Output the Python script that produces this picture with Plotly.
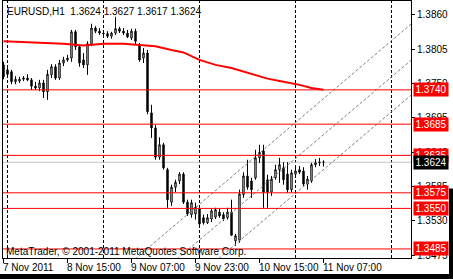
import plotly.graph_objects as go

# ---- data (EURUSD H1, bar index 0 = 7 Nov 2011 23:00) ----
open_p = [1.3780, 1.3772, 1.3769, 1.3753, 1.3754, 1.3757, 1.3759, 1.3756, 1.3746, 1.3743,
          1.3751, 1.3737, 1.3764, 1.3777, 1.3759, 1.3783, 1.3788, 1.3791, 1.3833, 1.3809,
          1.3788, 1.3780, 1.3814, 1.3839, 1.3834, 1.3831, 1.3830, 1.3826, 1.3831, 1.3838,
          1.3834, 1.3831, 1.3823, 1.3834, 1.3812, 1.3791, 1.3799, 1.3703, 1.3679, 1.3632,
          1.3652, 1.3612, 1.3560, 1.3584, 1.3594, 1.3605, 1.3560, 1.3540, 1.3541, 1.3549,
          1.3535, 1.3527, 1.3533, 1.3536, 1.3544, 1.3540, 1.3535, 1.3544, 1.3498, 1.3499,
          1.3572, 1.3602, 1.3594, 1.3599, 1.3631, 1.3642, 1.3596, 1.3576, 1.3599, 1.3612,
          1.3615, 1.3605, 1.3580, 1.3605, 1.3612, 1.3610, 1.3589, 1.3594, 1.3620, 1.3623,
          1.3624]
high_p = [1.3785, 1.3778, 1.3772, 1.3762, 1.3761, 1.3762, 1.3765, 1.3759, 1.3753, 1.3756,
          1.3756, 1.3772, 1.3781, 1.3781, 1.3788, 1.3793, 1.3796, 1.3836, 1.3836, 1.3812,
          1.3799, 1.3818, 1.3846, 1.3842, 1.3839, 1.3836, 1.3834, 1.3833, 1.3857, 1.3841,
          1.3839, 1.3836, 1.3838, 1.3838, 1.3815, 1.3807, 1.3804, 1.3716, 1.3684, 1.3664,
          1.3655, 1.3615, 1.3588, 1.3596, 1.3608, 1.3608, 1.3564, 1.3564, 1.3559, 1.3554,
          1.3540, 1.3541, 1.3549, 1.3551, 1.3549, 1.3544, 1.3551, 1.3564, 1.3509, 1.3580,
          1.3608, 1.3628, 1.3599, 1.3644, 1.3652, 1.3652, 1.3604, 1.3602, 1.3620, 1.3631,
          1.3624, 1.3624, 1.3612, 1.3615, 1.3618, 1.3616, 1.3602, 1.3623, 1.3629, 1.3631,
          1.3627]
low_p = [1.3757, 1.3759, 1.3749, 1.3749, 1.3751, 1.3754, 1.3754, 1.3740, 1.3740, 1.3738,
         1.3727, 1.3724, 1.3759, 1.3756, 1.3756, 1.3778, 1.3785, 1.3785, 1.3804, 1.3777,
         1.3775, 1.3764, 1.3810, 1.3831, 1.3828, 1.3826, 1.3823, 1.3822, 1.3828, 1.3831,
         1.3828, 1.3823, 1.3820, 1.3812, 1.3785, 1.3783, 1.3701, 1.3663, 1.3628, 1.3628,
         1.3612, 1.3551, 1.3554, 1.3576, 1.3589, 1.3557, 1.3538, 1.3535, 1.3532, 1.3522,
         1.3524, 1.3525, 1.3528, 1.3533, 1.3535, 1.3530, 1.3532, 1.3506, 1.3490, 1.3495,
         1.3567, 1.3580, 1.3567, 1.3596, 1.3623, 1.3551, 1.3551, 1.3570, 1.3596, 1.3591,
         1.3588, 1.3575, 1.3576, 1.3599, 1.3605, 1.3586, 1.3580, 1.3591, 1.3616, 1.3618,
         1.3617]
close_p = [1.3761, 1.3765, 1.3753, 1.3757, 1.3757, 1.3759, 1.3756, 1.3746, 1.3743, 1.3751,
           1.3737, 1.3765, 1.3777, 1.3759, 1.3783, 1.3788, 1.3791, 1.3833, 1.3809, 1.3783,
           1.3780, 1.3814, 1.3839, 1.3834, 1.3831, 1.3830, 1.3826, 1.3831, 1.3838, 1.3834,
           1.3831, 1.3825, 1.3834, 1.3818, 1.3788, 1.3799, 1.3705, 1.3679, 1.3632, 1.3652,
           1.3615, 1.3564, 1.3584, 1.3592, 1.3605, 1.3560, 1.3541, 1.3559, 1.3552, 1.3525,
           1.3527, 1.3535, 1.3546, 1.3548, 1.3538, 1.3533, 1.3544, 1.3507, 1.3506, 1.3573,
           1.3602, 1.3584, 1.3580, 1.3631, 1.3640, 1.3576, 1.3576, 1.3597, 1.3612, 1.3620,
           1.3596, 1.3580, 1.3607, 1.3610, 1.3608, 1.3589, 1.3597, 1.3620, 1.3623, 1.3624,
           1.3624]
bars = list(range(len(open_p)))

# moving average (read at sample bars)
ma_bars = [0, 5, 10, 15, 20, 25, 30, 35, 38, 42, 45, 49, 53, 57, 62, 66, 70, 74, 77, 80]
ma_values = [1.3818, 1.3817, 1.3815, 1.3814, 1.3811, 1.3814, 1.3814, 1.3812, 1.3810, 1.3804,
             1.3800, 1.3788, 1.3780, 1.3775, 1.3765, 1.3758, 1.3753, 1.3748, 1.3743, 1.3740]

# channel lines (two anchor bars each)
channel_bars = [30, 102]
channel_upper = [1.3453, 1.3846]
channel_middle = [1.3396, 1.3788]
channel_lower = [1.3340, 1.3732]

# horizontal levels
red_levels = [1.3740, 1.3685, 1.3635, 1.3575, 1.3550, 1.3485]
bid_level = 1.3624

# period separators (midnight bars)
separator_bars = [1, 25, 49, 73, 97]

# axis ticks
x_tick_bars = [0, 16, 32, 48, 64, 80]
x_tick_labels = ["7 Nov 2011", "8 Nov 15:00", "9 Nov 07:00", "9 Nov 23:00",
                 "10 Nov 15:00", "11 Nov 07:00"]
y_ticks = [1.3860, 1.3805, 1.3750, 1.3695, 1.3640, 1.3585, 1.3530, 1.3475]

title_text = "EURUSD,H1\u00a0\u00a01.3624 1.3627 1.3617 1.3624"
copyright_text = "MetaTrader, \u00a9 2001-2011 MetaQuotes Software Corp."

FONT = "Liberation Sans, Arial, sans-serif"

fig = go.Figure()

# channel lines
for vals in (channel_upper, channel_middle, channel_lower):
    fig.add_trace(go.Scatter(x=channel_bars, y=vals, mode="lines",
                             line=dict(color="#808080", width=1, dash="3px,2px"),
                             hoverinfo="skip"))

# candles
fig.add_trace(go.Candlestick(
    x=bars, open=open_p, high=high_p, low=low_p, close=close_p,
    increasing=dict(line=dict(color="black", width=1), fillcolor="white"),
    decreasing=dict(line=dict(color="black", width=1), fillcolor="black"),
    whiskerwidth=0))

# moving average
fig.add_trace(go.Scatter(x=ma_bars, y=ma_values, mode="lines",
                         line=dict(color="#FF0000", width=2), hoverinfo="skip"))

shapes = []
for b in separator_bars:
    shapes.append(dict(type="line", xref="x", yref="paper", x0=b, x1=b, y0=0, y1=1,
                       line=dict(color="black", width=1, dash="3px,2px"), layer="below"))
for lv in red_levels:
    shapes.append(dict(type="line", xref="paper", yref="y", x0=0, x1=1, y0=lv, y1=lv,
                       line=dict(color="#FF0000", width=1), layer="above"))
shapes.append(dict(type="line", xref="paper", yref="y", x0=0, x1=1, y0=bid_level, y1=bid_level,
                   line=dict(color="#C0C0C0", width=1), layer="below"))
# window frame strips (right, bottom)
shapes.append(dict(type="rect", xref="paper", yref="paper", x0=1.0931, x1=1.12,
                   y0=-0.1, y1=0.27, fillcolor="black", line=dict(width=0), layer="above"))
shapes.append(dict(type="rect", xref="paper", yref="paper", x0=-0.02, x1=1.12,
                   y0=-0.1, y1=-0.0623, fillcolor="black", line=dict(width=0), layer="above"))

annotations = []
for b, t in zip(x_tick_bars, x_tick_labels):
    annotations.append(dict(x=b, y=0, xref="x", yref="paper", text=t, showarrow=False,
                            xanchor="left", yanchor="top", xshift=-3, yshift=-2,
                            font=dict(family=FONT, size=10, color="black")))
for lv in red_levels:
    annotations.append(dict(x=1, y=lv, xref="paper", yref="y", text=f"{lv:.4f}",
                            showarrow=False, xanchor="left", yanchor="middle", xshift=2,
                            bgcolor="#FF0000", width=32, height=11, borderpad=1,
                            font=dict(family=FONT, size=10, color="white")))
annotations.append(dict(x=1, y=bid_level, xref="paper", yref="y", text=f"{bid_level:.4f}",
                        showarrow=False, xanchor="left", yanchor="middle", xshift=2,
                        bgcolor="black", width=32, height=11, borderpad=1,
                        font=dict(family=FONT, size=10, color="white")))
annotations.append(dict(x=0, y=1, xref="paper", yref="paper", text=title_text,
                        showarrow=False, xanchor="left", yanchor="top", xshift=2, yshift=-3,
                        font=dict(family=FONT, size=10, color="black")))
annotations.append(dict(x=0, y=0, xref="paper", yref="paper", text=copyright_text,
                        showarrow=False, xanchor="left", yanchor="bottom", xshift=1, yshift=-1,
                        font=dict(family=FONT, size=10, color="black")))

fig.update_layout(
    width=453, height=279,
    margin=dict(l=3, r=42, t=1, b=21),
    paper_bgcolor="white", plot_bgcolor="white",
    showlegend=False,
    boxgap=0.5,
    font=dict(family=FONT, size=10, color="black"),
    shapes=shapes, annotations=annotations,
    xaxis=dict(range=[-0.125, 101.875], showgrid=False, zeroline=False,
               showline=True, linecolor="black", linewidth=1, mirror=True,
               ticks="outside", ticklen=4, tickcolor="black", tickvals=x_tick_bars,
               showticklabels=False, rangeslider=dict(visible=False), fixedrange=True),
    yaxis=dict(range=[1.34705, 1.38824], side="right", showgrid=False, zeroline=False,
               showline=True, linecolor="black", linewidth=1, mirror=True,
               ticks="outside", ticklen=3, tickcolor="black", tickvals=y_ticks,
               tickformat=".4f", tickfont=dict(family=FONT, size=10, color="black"),
               fixedrange=True),
)

fig.write_html("out.html")
